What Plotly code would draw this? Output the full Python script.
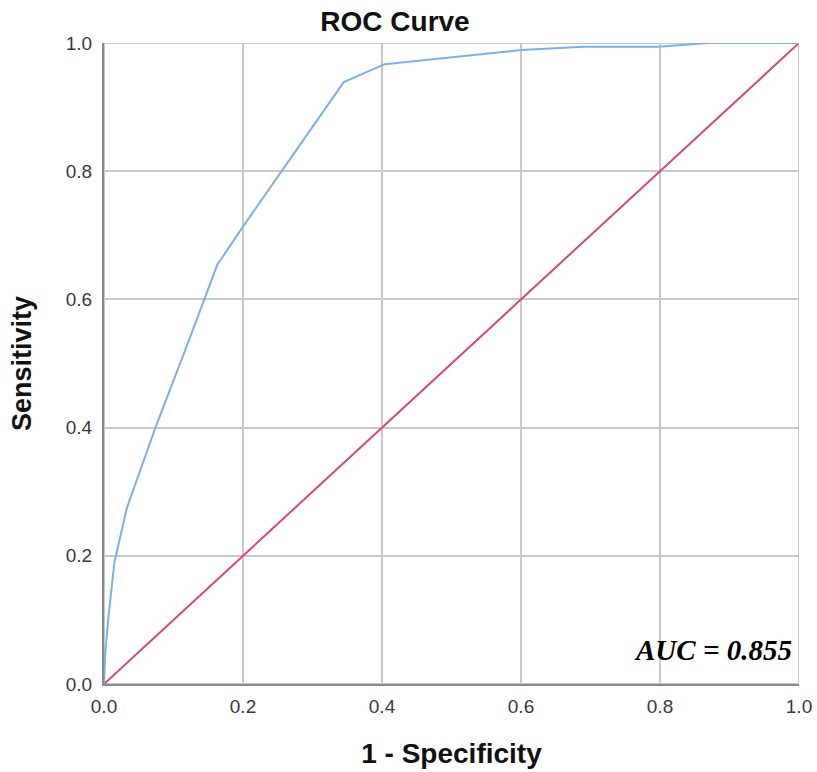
import plotly.graph_objects as go

# ROC curve points (1 - specificity, sensitivity)
fpr = [0.0, 0.002, 0.006, 0.015, 0.033, 0.074, 0.12, 0.163, 0.199, 0.345, 0.404, 0.60, 0.69, 0.798, 0.87, 1.0]
tpr = [0.0, 0.05, 0.10, 0.19, 0.275, 0.40, 0.53, 0.654, 0.712, 0.939, 0.967, 0.989, 0.994, 0.994, 1.0, 1.0]
ref_x = [0.0, 1.0]
ref_y = [0.0, 1.0]
tick_vals = [0.0, 0.2, 0.4, 0.6, 0.8, 1.0]
tick_text = ["0.0", "0.2", "0.4", "0.6", "0.8", "1.0"]
auc_text = "AUC = 0.855"

fig = go.Figure()
fig.add_trace(go.Scatter(x=ref_x, y=ref_y, mode="lines",
                         line=dict(color="#D9486E", width=2), showlegend=False))
fig.add_trace(go.Scatter(x=fpr, y=tpr, mode="lines",
                         line=dict(color="#7EB0E8", width=2), showlegend=False))

axis_common = dict(range=[0, 1], tickvals=tick_vals, ticktext=tick_text,
                   showgrid=True, gridcolor="#C8C8C8", gridwidth=2,
                   zeroline=False, ticks="", tickfont=dict(family="Arial", size=19, color="#3A3A3A"),
                   showline=True, linecolor="#8A8A8A", linewidth=2, automargin=False)

fig.update_xaxes(**axis_common, ticklabelstandoff=4,
                 title=dict(text="<b>1 - Specificity</b>", font=dict(family="Arial", size=28, color="#111111"),
                            standoff=28))
fig.update_yaxes(**axis_common, ticklabelstandoff=6,
                 title=dict(text="<b>Sensitivity</b>", font=dict(family="Arial", size=27, color="#111111"),
                            standoff=26))

# light box on top/right
fig.add_shape(type="rect", xref="x", yref="y", x0=0, y0=0, x1=1, y1=1,
              line=dict(color="#C8C8C8", width=2), layer="below")

fig.add_annotation(x=0.993, y=0.053, xref="x", yref="y", text="<b><i>" + auc_text + "</i></b>",
                   showarrow=False, xanchor="right", yanchor="middle",
                   font=dict(family="Liberation Serif", size=29, color="#000000"))

fig.update_layout(
    width=817, height=772,
    margin=dict(l=104, r=18, t=43, b=88),
    paper_bgcolor="white", plot_bgcolor="white",
    title=dict(text="<b>ROC Curve</b>", x=0.4835, xanchor="center", y=0.973, yanchor="middle",
               font=dict(family="Arial", size=28, color="#111111")),
)

fig.write_html("out.html")
